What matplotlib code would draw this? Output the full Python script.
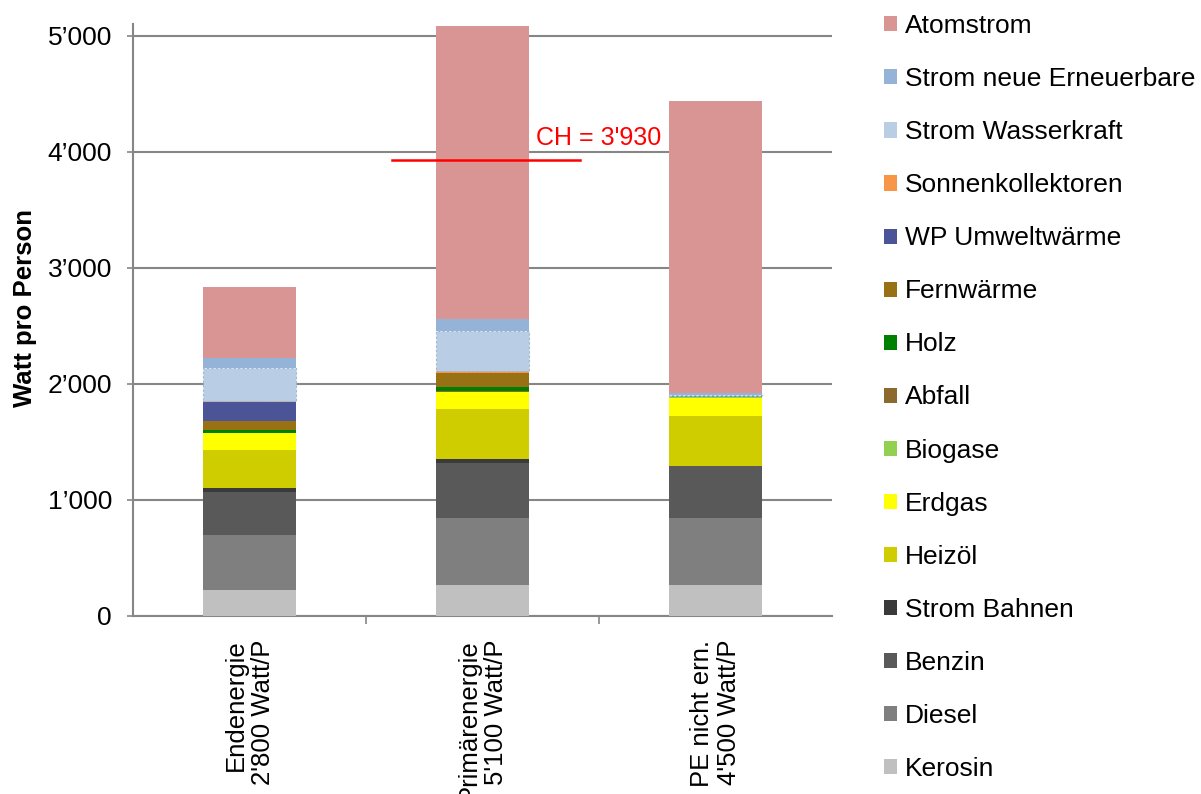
import numpy as np
import matplotlib
matplotlib.use("Agg")
import matplotlib.pyplot as plt
from matplotlib.patches import Patch

plt.rcParams['font.family'] = ['Liberation Sans', 'DejaVu Sans']

# categories (x axis)
categories = ["Endenergie\n2'800 Watt/P", "Primärenergie\n5'100 Watt/P", "PE nicht ern.\n4'500 Watt/P"]

# stacked series, bottom to top (Watt pro Person)
series_names = ["Kerosin", "Diesel", "Benzin", "Strom Bahnen", "Heizöl", "Erdgas",
                "Biogase", "Abfall", "Holz", "Fernwärme", "WP Umweltwärme",
                "Sonnenkollektoren", "Strom Wasserkraft", "Strom neue Erneuerbare", "Atomstrom"]
kerosin = [224, 267, 267]
diesel = [474, 575, 580]
benzin = [374, 474, 449]
strom_bahnen = [29, 37, 0]
heizoel = [330, 431, 431]
erdgas = [144, 150, 150]
biogase = [0, 0, 12]
abfall = [5, 4, 0]
holz = [20, 37, 5]
fernwaerme = [80, 121, 0]
wp_umwelt = [164, 0, 0]
sonnen = [10, 14, 0]
wasserkraft = [288, 351, 15]
neue_ern = [78, 101, 10]
atomstrom = [612, 2520, 2520]

ch_value = 3930
ch_label = "CH = 3'930"

values = [kerosin, diesel, benzin, strom_bahnen, heizoel, erdgas, biogase, abfall,
          holz, fernwaerme, wp_umwelt, sonnen, wasserkraft, neue_ern, atomstrom]
colors = ["#c0c0c0", "#7f7f7f", "#595959", "#3a3a3a", "#cfcc00", "#ffff00",
          "#92d050", "#8c6a2e", "#008000", "#977113", "#4b5496",
          "#f79646", "#b9cde5", "#95b3d7", "#d99594"]

fig = plt.figure(figsize=(12.01, 7.94), dpi=100)
ax = fig.add_axes([0.1107, 0.2242, 0.5821, 0.7451])

x = np.arange(len(categories))
bottom = np.zeros(len(categories))
for name, vals, col in zip(series_names, values, colors):
    # Wasserkraft has a faint dashed outline in the original
    if name == "Strom Wasserkraft":
        ax.bar(x, vals, width=0.4, bottom=bottom, color=col, label=name, zorder=3,
               edgecolor="#9fb6d6", linestyle=(0, (2, 2)), linewidth=0.8)
    else:
        ax.bar(x, vals, width=0.4, bottom=bottom, color=col, label=name, zorder=3)
    bottom += np.array(vals)

ax.set_xlim(-0.5, 2.5)
ax.set_ylim(0, 5100)
ax.set_yticks(np.arange(0, 5001, 1000))
ax.set_yticklabels(["0", "1’000", "2’000", "3’000", "4’000", "5’000"])
ax.yaxis.grid(True, color="#868686", linewidth=1.5, zorder=0)

for s in ["top", "right"]:
    ax.spines[s].set_visible(False)
for s in ["left", "bottom"]:
    ax.spines[s].set_color("#868686")
    ax.spines[s].set_linewidth(1.5)

ax.tick_params(axis="y", length=4, width=1.2, color="#868686", pad=11, labelsize=19)
ax.set_xticks([0.5, 1.5], minor=True)
ax.set_xticks(x)
ax.set_xticklabels(categories, rotation=90, fontsize=18.5, multialignment="right")
ax.tick_params(axis="x", which="major", length=0, pad=17)
ax.tick_params(axis="x", which="minor", length=6, width=1.2, color="#868686")

ax.set_ylabel("Watt pro Person", fontsize=18.5, fontweight="bold")
ax.yaxis.set_label_coords(-0.137, 0.521)

# CH reference line
ax.plot([0.61, 1.42], [ch_value, ch_value], color="#ff0000", linewidth=1.8, zorder=4)
ax.text(1.229, 4060, ch_label, color="#ff0000", fontsize=18, va="baseline", zorder=4)

handles = [Patch(facecolor=c) for c in colors][::-1]
fig.legend(handles, series_names[::-1], loc="upper left", bbox_to_anchor=(0.736, 0.982),
           frameon=False, fontsize=19, handlelength=0.5, handleheight=0.5,
           handletextpad=0.3, labelspacing=1.1, borderpad=0, borderaxespad=0)

fig.savefig("out.png", dpi=100)
